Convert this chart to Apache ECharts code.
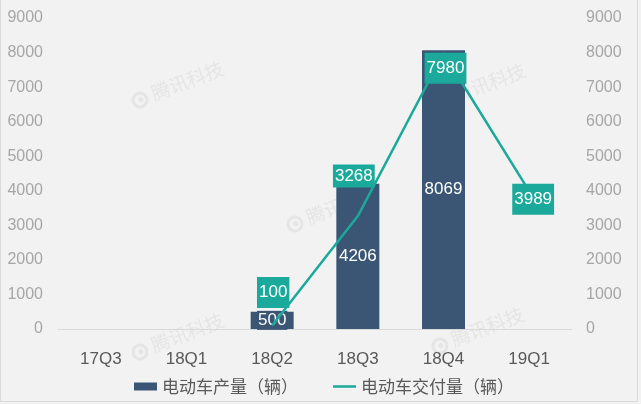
<!DOCTYPE html>
<html>
<head>
<meta charset="utf-8">
<script src="https://cdn.jsdelivr.net/npm/echarts@6/dist/echarts.min.js"></script>
<style>
html,body{margin:0;padding:0;background:#f2f2f2;}
#chart{width:641px;height:404px;}
</style>
</head>
<body>
<div id="chart"></div>
<script>
var categories = ['17Q3', '18Q1', '18Q2', '18Q3', '18Q4', '19Q1'];
var production = [null, null, 500, 4206, 8069, null];
var deliveries = [null, null, 100, 3268, 7980, 3989];
var seriesNames = ['电动车产量（辆）', '电动车交付量（辆）'];
var axisTicks = [0, 1000, 2000, 3000, 4000, 5000, 6000, 7000, 8000, 9000];

var BAR = '#3b5674';
var TEAL = '#1aa99a';
var WM = '#e5e5e5';

// label box placement tweaks (style only)
var labelOffsets = [null, null, [1, -33], [-4, -40], [2, 15], [4, 8]];
var labelPads = [null, null, [7, 2], [3, 2], [7, 2], [7, 2]];

var lineData = deliveries.map(function (v, i) {
  if (v === null) return null;
  return {
    value: v,
    label: { offset: labelOffsets[i], padding: labelPads[i] }
  };
});

function watermark(x, y) {
  return {
    type: 'group', x: x, y: y, rotation: 0.36, z: 0, silent: true,
    children: [
      { type: 'circle', shape: { cx: 0, cy: 0, r: 7 }, style: { fill: 'none', stroke: WM, lineWidth: 3 } },
      { type: 'circle', shape: { cx: 1, cy: 0, r: 2.5 }, style: { fill: WM } },
      { type: 'text', x: 13, y: -11, style: { text: '腾讯科技', fill: WM, font: '19px "Noto Sans CJK SC"' } }
    ]
  };
}

var lineIcon = 'path://M0,0L0.01,0L0,0.01Z M0,2.75L23,2.75L23,5.25L0,5.25Z M23,8L22.99,8L23,7.99Z';

var chart = echarts.init(document.getElementById('chart'), null, { renderer: 'canvas' });
chart.setOption({
  backgroundColor: '#f2f2f2',
  animation: false,
  textStyle: { fontFamily: '"Liberation Sans", Arial, "Noto Sans CJK SC", sans-serif' },
  graphic: {
    elements: [
      watermark(140, 100),
      watermark(295, 224),
      watermark(442, 102),
      watermark(140, 352),
      watermark(440, 346),
      { type: 'polyline', silent: true, z: 0,
        shape: { points: [[0.5, 0], [0.5, 401.5], [637.5, 401.5], [637.5, 0]] },
        style: { fill: 'none', stroke: '#d9d9d9', lineWidth: 1 } }
    ]
  },
  grid: { left: 58, right: 69, top: 18, bottom: 75, containLabel: false },
  legend: {
    left: 129, top: 373,
    itemWidth: 23, itemHeight: 8, itemGap: 35,
    textStyle: { fontSize: 17, color: '#595959', fontFamily: '"Noto Sans CJK SC", sans-serif' },
    data: [
      { name: seriesNames[0], icon: 'rect' },
      { name: seriesNames[1], icon: lineIcon }
    ]
  },
  xAxis: {
    type: 'category',
    data: categories,
    axisLine: { lineStyle: { color: '#d9d9d9', width: 1 } },
    axisTick: { show: false },
    axisLabel: { color: '#595959', fontSize: 17, margin: 22 }
  },
  yAxis: [
    {
      type: 'value', min: axisTicks[0], max: axisTicks[axisTicks.length - 1], interval: 1000,
      splitLine: { show: false }, axisLine: { show: false }, axisTick: { show: false },
      axisLabel: { color: '#a6a6a6', fontSize: 16, margin: 15, formatter: function (v) { return String(v); } }
    },
    {
      type: 'value', min: axisTicks[0], max: axisTicks[axisTicks.length - 1], interval: 1000,
      splitLine: { show: false }, axisLine: { show: false }, axisTick: { show: false },
      axisLabel: { color: '#a6a6a6', fontSize: 16, margin: 14, formatter: function (v) { return String(v); } }
    }
  ],
  series: [
    {
      name: seriesNames[0],
      type: 'bar',
      yAxisIndex: 0,
      barWidth: 43,
      z: 2,
      itemStyle: { color: BAR },
      label: {
        show: true, position: 'inside', color: '#ffffff', fontSize: 17,
        backgroundColor: BAR, padding: [1, 1]
      },
      data: production
    },
    {
      name: seriesNames[1],
      type: 'line',
      yAxisIndex: 1,
      z: 2,
      symbol: 'circle',
      symbolSize: 1,
      showSymbol: true,
      itemStyle: { color: TEAL },
      lineStyle: { color: TEAL, width: 2.5 },
      label: {
        show: true, position: 'inside', color: '#ffffff', fontSize: 17,
        backgroundColor: TEAL
      },
      data: lineData
    }
  ]
});
</script>
</body>
</html>
